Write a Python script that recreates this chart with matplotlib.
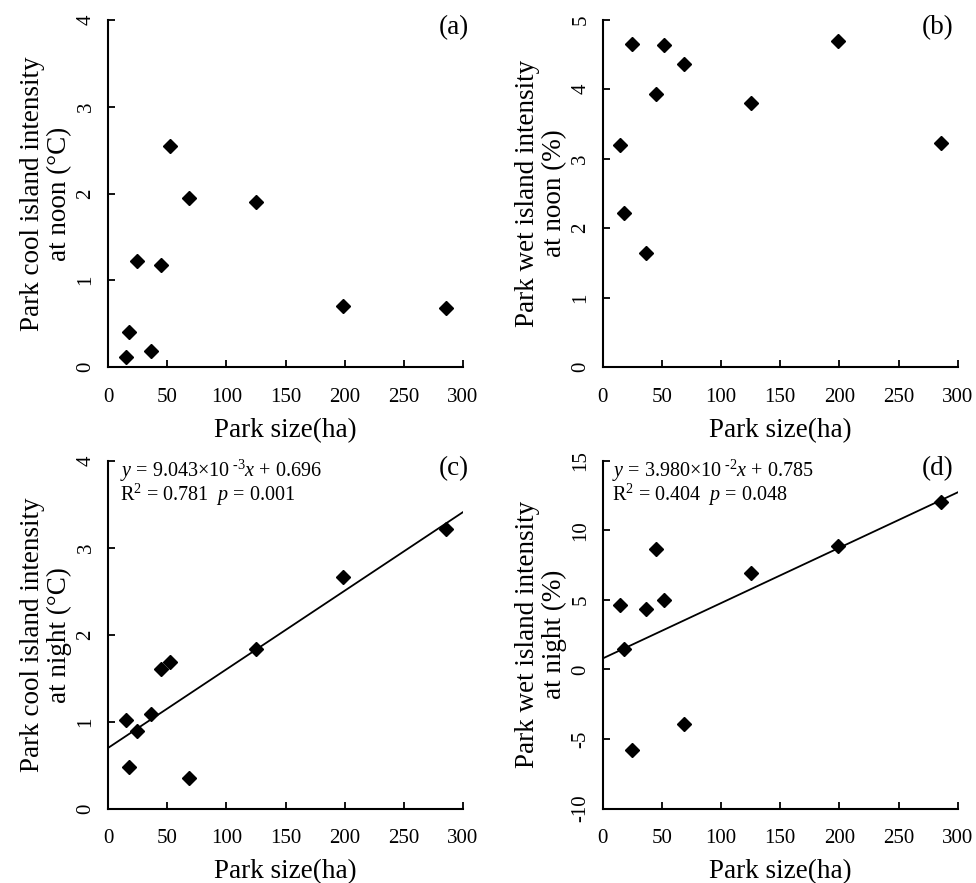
import matplotlib
matplotlib.use('Agg')
import matplotlib.pyplot as plt
import numpy as np

plt.rcParams['font.family'] = ['Liberation Serif', 'DejaVu Serif']
plt.rcParams['mathtext.fontset'] = 'custom'
plt.rcParams['mathtext.rm'] = 'Liberation Serif'
plt.rcParams['mathtext.it'] = 'Liberation Serif:italic'

# ---------------- data ----------------
park_size = [15, 18, 24.5, 36.5, 45, 52, 68.5, 125, 199, 285.5]
cool_noon = [0.11, 0.40, 1.22, 0.19, 1.18, 2.55, 1.95, 1.90, 0.70, 0.68]
wet_noon = [3.19, 2.22, 4.65, 1.64, 3.93, 4.63, 4.36, 3.80, 4.69, 3.23]
cool_night = [1.02, 0.48, 0.89, 1.09, 1.60, 1.69, 0.35, 1.83, 2.66, 3.21]
wet_night = [4.65, 1.46, -5.83, 4.32, 8.63, 5.01, -3.91, 6.93, 8.90, 12.06]

fit_mantissa = [9.043, 3.980]
fit_exponent = [-3, -2]
fit_intercept = [0.696, 0.785]
fit_r2 = [0.781, 0.404]
fit_p = [0.001, 0.048]

x_ticks = [0, 50, 100, 150, 200, 250, 300]
y_ticks_a = [0, 1, 2, 3, 4]
y_ticks_b = [0, 1, 2, 3, 4, 5]
y_ticks_c = [0, 1, 2, 3, 4]
y_ticks_d = [-10, -5, 0, 5, 10, 15]

panel_labels = ['(a)', '(b)', '(c)', '(d)']
x_label = 'Park size(ha)'
y_labels = ['Park cool island intensity\nat noon (°C)',
            'Park wet island intensity\nat noon (%)',
            'Park cool island intensity\nat night (°C)',
            'Park wet island intensity\nat night (%)']

# ---------------- figure ----------------
fig = plt.figure(figsize=(9.76, 8.83), dpi=100)
W, H = 976, 883

def axes_px(left, top, right, bottom):
    return fig.add_axes([left / W, 1 - bottom / H, (right - left) / W, (bottom - top) / H])

axs = [axes_px(108, 20, 463, 367),
       axes_px(602.7, 19.5, 957.7, 367),
       axes_px(108, 460.7, 463, 808.5),
       axes_px(602.7, 460.7, 957.7, 808.5)]

series = [cool_noon, wet_noon, cool_night, wet_night]
yticks = [y_ticks_a, y_ticks_b, y_ticks_c, y_ticks_d]

for i, ax in enumerate(axs):
    ax.plot(park_size, series[i], linestyle='none', marker='D', markersize=7.6,
            color='black', zorder=3)
    ax.set_xlim(0, 300)
    ax.set_ylim(yticks[i][0], yticks[i][-1])
    ax.set_xticks(x_ticks)
    ax.set_yticks(yticks[i])
    ax.set_xticklabels([str(t) for t in x_ticks])
    ax.set_yticklabels([str(t) for t in yticks[i]])
    for s in ['top', 'right']:
        ax.spines[s].set_visible(False)
    for s in ['left', 'bottom']:
        ax.spines[s].set_linewidth(1.5)
    ax.tick_params(axis='both', direction='in', length=5, width=1.3, labelsize=15)
    ax.tick_params(axis='x', pad=15)
    ax.tick_params(axis='y', pad=9)
    plt.setp(ax.get_yticklabels(), rotation=90, va='center', ha='right')
    ax.set_xlabel(x_label, fontsize=19.5, labelpad=8)
    ax.set_ylabel(y_labels[i], fontsize=19.5, linespacing=1.1)
    ax.yaxis.set_label_coords(-36 / 355, 0.5)
    ax.text(1.0 + (6 / 355 if i % 2 == 0 else -4 / 355), 1 - 8 / 347,
            panel_labels[i], transform=ax.transAxes, ha='right', va='center',
            fontsize=19.5)

# regression lines and equations
for k, ax in enumerate([axs[2], axs[3]]):
    slope = fit_mantissa[k] * 10.0 ** fit_exponent[k]
    xs = np.array([0, 300])
    ax.plot(xs, slope * xs + fit_intercept[k], color='black', lw=1.3, zorder=2)
    eq = (r'$y$ = %.3f×10$^{\text{ %d}}$$x$ + %.3f'
          % (fit_mantissa[k], fit_exponent[k], fit_intercept[k]))
    st = r'R$^{2}$ = %.3f  $p$ = %.3f' % (fit_r2[k], fit_p[k])
    x0 = 12 / 355 if k == 0 else 9 / 355
    ax.text(x0, 1 - 10 / 348, eq, transform=ax.transAxes, ha='left', va='center',
            fontsize=14.5)
    ax.text(x0, 1 - 34 / 348, st, transform=ax.transAxes, ha='left', va='center',
            fontsize=14.5)

fig.savefig('out.png', dpi=100)
